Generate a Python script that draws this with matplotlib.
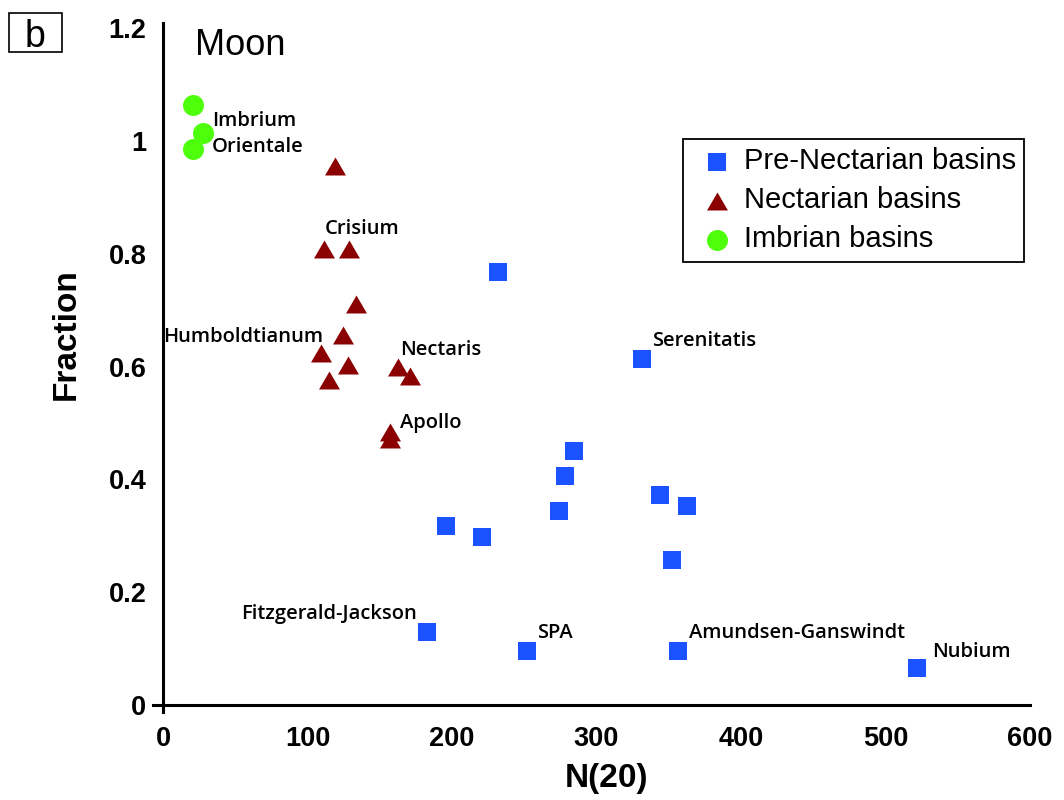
import matplotlib
matplotlib.use("Agg")
import matplotlib.pyplot as plt
from matplotlib.patches import Rectangle

# ---- data: crater density N(20) vs. fraction, lunar basins ----
pre_n20 = [231.6, 331.3, 284.5, 278.3, 343.9, 362.4, 273.7, 196.1, 221.0, 352.0, 182.5, 251.9, 356.1, 521.6]
pre_frac = [0.767, 0.613, 0.450, 0.406, 0.372, 0.352, 0.344, 0.317, 0.297, 0.257, 0.129, 0.095, 0.095, 0.065]

nec_n20 = [119.0, 111.2, 128.9, 133.3, 124.3, 109.3, 127.8, 115.1, 162.8, 170.8, 157.0, 157.0]
nec_frac = [0.955, 0.809, 0.809, 0.711, 0.656, 0.625, 0.602, 0.576, 0.600, 0.584, 0.484, 0.472]

imb_n20 = [20.9, 27.4, 20.5]
imb_frac = [1.063, 1.015, 0.986]

series_names = ["Pre-Nectarian basins", "Nectarian basins", "Imbrian basins"]

# named basins: (name, series, index in series, text offset in points, horizontal alignment)
basin_labels = [
    ("Imbrium", "imb", 1, (6.5, 8.4), "left"),
    ("Orientale", "imb", 2, (13.7, 1.4), "left"),
    ("Crisium", "nec", 1, (0.7, 14.0), "left"),
    ("Humboldtianum", "nec", 4, (-13.7, -1.2), "right"),
    ("Nectaris", "nec", 8, (1.7, 12.0), "left"),
    ("Apollo", "nec", 10, (7.2, 6.5), "left"),
    ("Serenitatis", "pre", 1, (7.2, 13.0), "left"),
    ("Fitzgerald-Jackson", "pre", 10, (-6.9, 13.2), "right"),
    ("SPA", "pre", 11, (7.2, 13.0), "left"),
    ("Amundsen-Ganswindt", "pre", 12, (8.4, 13.0), "left"),
    ("Nubium", "pre", 13, (11.1, 11.5), "left"),
]

x_ticks = [0, 100, 200, 300, 400, 500, 600]
y_ticks = [0, 0.2, 0.4, 0.6, 0.8, 1.0, 1.2]
y_tick_labels = ["0", "0.2", "0.4", "0.6", "0.8", "1", "1.2"]

BLUE = "#1a53ff"
RED = "#8b0000"
GREEN = "#4dff0a"
SANS = ["Liberation Sans", "DejaVu Sans"]

W, H = 1064, 800
fig = plt.figure(figsize=(W / 100, H / 100), dpi=100)
fig.patch.set_facecolor("white")

ax_left, ax_right = 152.9, 1030.0
ax_top, ax_bottom = 22.6, 712.3
ax = fig.add_axes([ax_left / W, 1 - ax_bottom / H,
                   (ax_right - ax_left) / W, (ax_bottom - ax_top) / H])

tri = [(0, 0.857), (-1, -0.857), (1, -0.857)]

ax.scatter(pre_n20, pre_frac, marker="s", s=187, color=BLUE, linewidths=0,
           label=series_names[0], zorder=3)
ax.scatter(nec_n20, nec_frac, marker=tri, s=228, color=RED, linewidths=0,
           label=series_names[1], zorder=3)
ax.scatter(imb_n20, imb_frac, marker="o", s=228, color=GREEN, linewidths=0,
           label=series_names[2], zorder=3)

lookup = {"pre": (pre_n20, pre_frac), "nec": (nec_n20, nec_frac), "imb": (imb_n20, imb_frac)}
for name, key, i, off, ha in basin_labels:
    xs, ys = lookup[key]
    ax.annotate(name, (xs[i], ys[i]), xytext=off, textcoords="offset points",
                ha=ha, va="center", fontsize=14.5, fontweight="semibold",
                family=["Open Sans", "DejaVu Sans"], color="black", zorder=4)

ax.set_xlim(-7, 600)
ax.set_ylim(-0.013, 1.21)
for side in ("top", "right"):
    ax.spines[side].set_visible(False)
ax.spines["left"].set_position(("data", 0))
ax.spines["bottom"].set_position(("data", 0))
ax.spines["left"].set_linewidth(2.2)
ax.spines["bottom"].set_linewidth(2.2)

ax.set_xticks(x_ticks)
ax.set_xticklabels([str(v) for v in x_ticks])
ax.set_yticks(y_ticks)
ax.set_yticklabels(y_tick_labels)
ax.tick_params(axis="y", length=0, pad=12)
ax.tick_params(axis="x", length=0, pad=15)
for lab in ax.get_xticklabels() + ax.get_yticklabels():
    lab.set_fontsize(19.5)
    lab.set_fontweight("bold")
    lab.set_family(SANS)

ax.set_xlabel("N(20)", fontsize=24, fontweight="bold", family=SANS)
ax.set_ylabel("Fraction", fontsize=24, fontweight="bold", family=SANS)
ax.xaxis.set_label_coords(0.5177, -0.074)
ax.yaxis.set_label_coords(-0.0808, 0.5485)

ax.text((195 - ax_left) / (ax_right - ax_left), (ax_bottom - 55) / (ax_bottom - ax_top),
        "Moon", transform=ax.transAxes, fontsize=26, va="baseline", ha="left",
        family=SANS)

leg = ax.legend(loc="upper left", bbox_to_anchor=(683 / W, 1 - 139 / H),
                bbox_transform=fig.transFigure, fancybox=False, framealpha=1,
                edgecolor="black", borderpad=0.28, labelspacing=0.38,
                handletextpad=0.05, handlelength=1.75, borderaxespad=0,
                prop={"family": SANS, "size": 21})
leg.get_frame().set_linewidth(1.3)

# panel tag
fig.patches.append(Rectangle((9 / W, 1 - 52 / H), 53 / W, 39 / H, transform=fig.transFigure,
                             facecolor="white", edgecolor="black", linewidth=1.2))
fig.text(35.5 / W, 1 - 47 / H, "b", fontsize=27, ha="center", va="baseline",
         family=SANS)

fig.savefig("out.png", dpi=100)
